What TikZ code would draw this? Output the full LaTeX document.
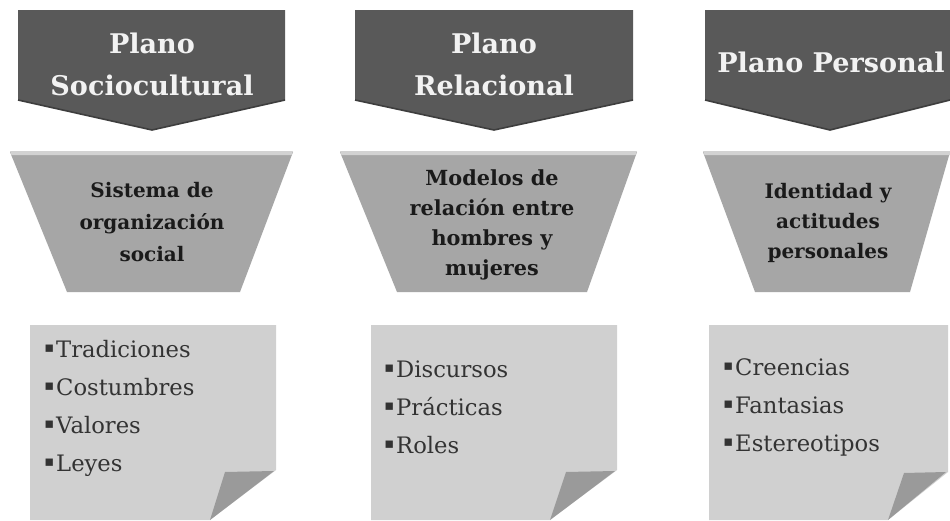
\documentclass[tikz,border=0pt]{standalone}
\usepackage{fontspec}
\setmainfont{DejaVu Serif}
\newfontfamily\symfnt{DejaVu Sans}
\newcommand\titlefnt{\fontsize{20.3pt}{31.5pt}\selectfont\bfseries}
\newcommand\trapfnt{\fontsize{15pt}{24pt}\selectfont\bfseries}
\newcommand\trapfntb{\fontsize{15.6pt}{22.5pt}\selectfont\bfseries}
\newcommand\trapfntc{\fontsize{15pt}{22.5pt}\selectfont\bfseries}
\newcommand\notefnt{\fontsize{17pt}{28.5pt}\selectfont}
\newcommand\bul{\raisebox{3.2pt}{\symfnt\fontsize{11pt}{11pt}\selectfont ▪}\hspace{1.5pt}}
\definecolor{headgray}{HTML}{595959}
\definecolor{headedge}{HTML}{3E3E3E}
\definecolor{trapgray}{HTML}{A6A6A6}
\definecolor{trapedge}{HTML}{D2D2D2}
\definecolor{notegray}{HTML}{D0D0D0}
\definecolor{foldgray}{HTML}{9A9A9A}
\definecolor{titletext}{HTML}{F2F2F2}
\definecolor{traptext}{HTML}{1A1A1A}
\definecolor{notetext}{HTML}{333333}
\tikzset{
  headshape/.style={fill=headgray},
  headline/.style={draw=headedge, line width=1.2pt, line join=round},
  trapshape/.style={fill=trapgray},
  trapstrip/.style={fill=trapedge},
  noteshape/.style={fill=notegray},
  foldshape/.style={fill=foldgray},
  titlenode/.style={text=titletext, font=\titlefnt, align=center, inner sep=0pt},
  trapnode/.style={text=traptext, align=center, inner sep=0pt},
  notenode/.style={text=notetext, font=\notefnt, align=left, inner sep=0pt, anchor=west},
}
\begin{document}
\begin{tikzpicture}[x=0.75pt, y=-0.75pt]
\useasboundingbox[fill=white] (0,0) rectangle (950,521);

% ---------- column 1 ----------
\fill[headshape] (18,10) -- (285,10) -- (285,100) -- (152,130) -- (18,100) -- cycle;
\draw[headline] (18,100) -- (152,130) -- (285,100);
\fill[trapshape] (10,152) -- (293,152) -- (240,292) -- (67,292) -- cycle;
\fill[trapstrip] (10,151) -- (293,151) -- (291.5,155) -- (11.5,155) -- cycle;
\fill[noteshape] (30,325) -- (276,325) -- (276,470) -- (210,520) -- (30,520) -- cycle;
\fill[foldshape] (225,472) -- (274,471) -- (210,520) -- cycle;

\node[titlenode] (h1) at (152,64) {Plano\\Sociocultural};
\node[trapnode, font=\trapfnt] (t1) at (152,222) {Sistema de\\organización\\social};
\node[notenode] (n1) at (44,408) {\bul Tradiciones\\\bul Costumbres\\\bul Valores\\\bul Leyes};

% ---------- column 2 ----------
\fill[headshape] (355,10) -- (633,10) -- (633,100) -- (494,130) -- (355,100) -- cycle;
\draw[headline] (355,100) -- (494,130) -- (633,100);
\fill[trapshape] (340,152) -- (637,152) -- (587,292) -- (397,292) -- cycle;
\fill[trapstrip] (340,151) -- (637,151) -- (635.5,155) -- (341.5,155) -- cycle;
\fill[noteshape] (371,325) -- (617,325) -- (617,470) -- (550,520) -- (371,520) -- cycle;
\fill[foldshape] (566,472) -- (615,471) -- (550,520) -- cycle;

\node[titlenode] (h2) at (494,64) {Plano\\Relacional};
\node[trapnode, font=\trapfntb] (t2) at (492,225) {Modelos de\\relación entre\\hombres y\\mujeres};
\node[notenode] (n2) at (384,407) {\bul Discursos\\\bul Prácticas\\\bul Roles};

% ---------- column 3 ----------
\fill[headshape] (705,10) -- (950,10) -- (950,100) -- (830,130) -- (705,100) -- cycle;
\draw[headline] (705,100) -- (830,130) -- (950,100);
\fill[trapshape] (703,152) -- (950,152) -- (910,292) -- (755,292) -- cycle;
\fill[trapstrip] (703,151) -- (950,151) -- (950,155) -- (704.5,155) -- cycle;
\fill[noteshape] (709,325) -- (948,325) -- (948,472) -- (888,520) -- (709,520) -- cycle;
\fill[foldshape] (904,473) -- (946,472) -- (888,520) -- cycle;

\node[titlenode] (h3) at (831,62) {Plano Personal};
\node[trapnode, font=\trapfntc] (t3) at (828,223) {Identidad y\\actitudes\\personales};
\node[notenode] (n3) at (723,407) {\bul Creencias\\\bul Fantasias\\\bul Estereotipos};
\end{tikzpicture}
\end{document}
